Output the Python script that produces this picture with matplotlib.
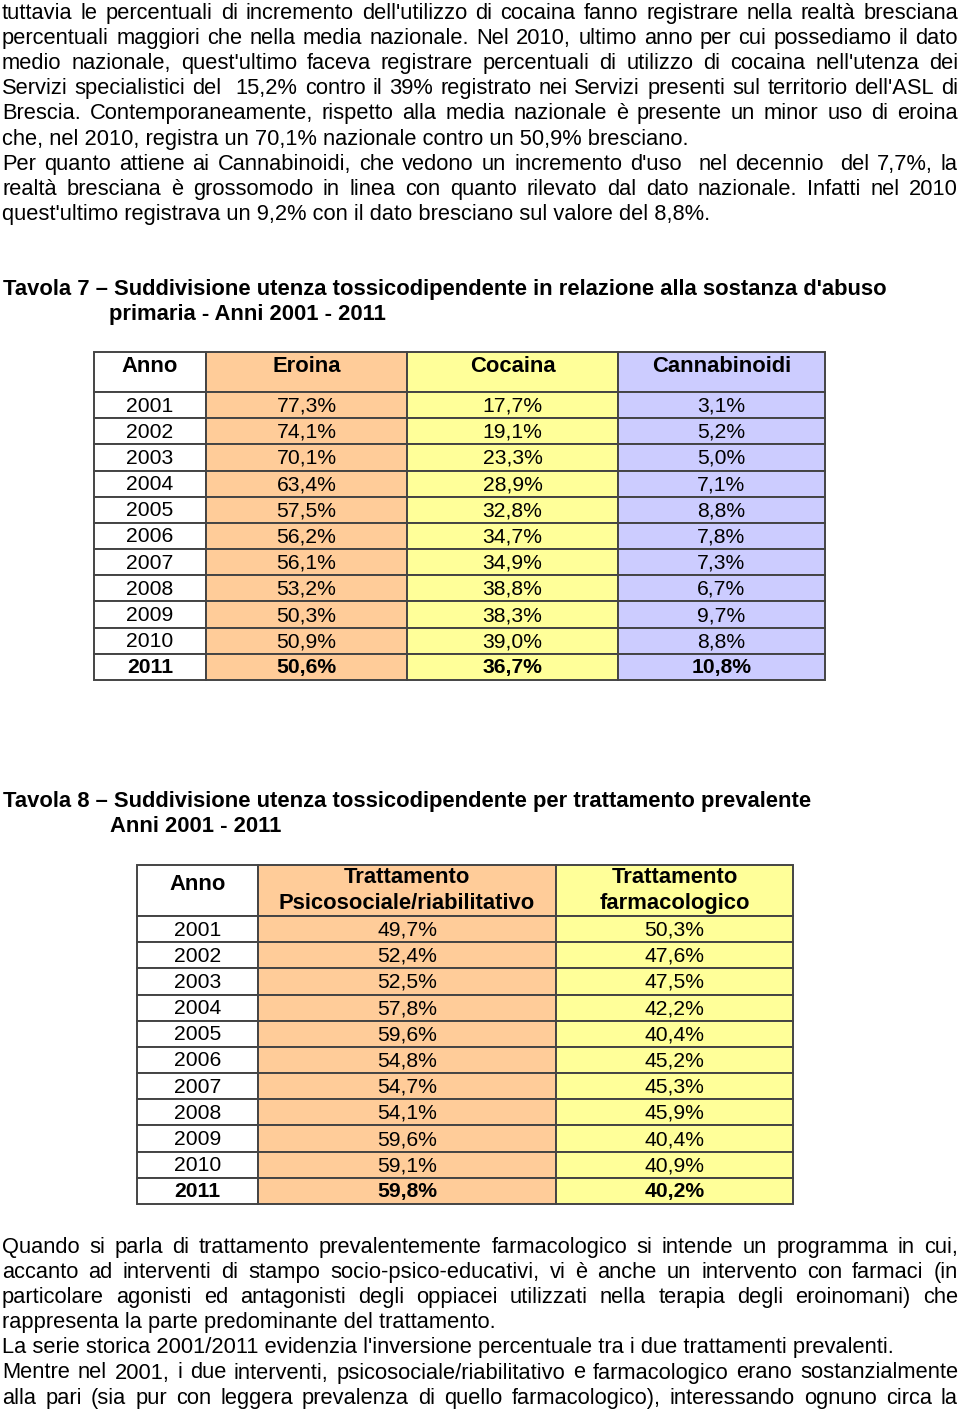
#!/usr/bin/env python3
"""Page with two tables (Tavola 7 / Tavola 8) and justified body text."""
import matplotlib
matplotlib.use("Agg")
import matplotlib.pyplot as plt
from matplotlib import font_manager
from matplotlib.patches import Rectangle

# ---- data ----
years = [2001, 2002, 2003, 2004, 2005, 2006, 2007, 2008, 2009, 2010, 2011]
eroina = [77.3, 74.1, 70.1, 63.4, 57.5, 56.2, 56.1, 53.2, 50.3, 50.9, 50.6]
cocaina = [17.7, 19.1, 23.3, 28.9, 32.8, 34.7, 34.9, 38.8, 38.3, 39.0, 36.7]
cannabinoidi = [3.1, 5.2, 5.0, 7.1, 8.8, 7.8, 7.3, 6.7, 9.7, 8.8, 10.8]
t7_headers = ["Anno", "Eroina", "Cocaina", "Cannabinoidi"]

psicosociale = [49.7, 52.4, 52.5, 57.8, 59.6, 54.8, 54.7, 54.1, 59.6, 59.1, 59.8]
farmacologico = [50.3, 47.6, 47.5, 42.2, 40.4, 45.2, 45.3, 45.9, 40.4, 40.9, 40.2]
t8_headers = ["Anno", "Trattamento\nPsicosociale/riabilitativo", "Trattamento\nfarmacologico"]

# (text, justified?)
para_top = [
    ("tuttavia le percentuali di incremento dell'utilizzo di cocaina fanno registrare nella realtà bresciana", True),
    ("percentuali maggiori che nella media nazionale. Nel 2010, ultimo anno per cui possediamo il dato", True),
    ("medio nazionale, quest'ultimo faceva registrare percentuali di utilizzo di cocaina nell'utenza dei", True),
    ("Servizi specialistici del  15,2% contro il 39% registrato nei Servizi presenti sul territorio dell'ASL di", True),
    ("Brescia. Contemporaneamente, rispetto alla media nazionale è presente un minor uso di eroina", True),
    ("che, nel 2010, registra un 70,1% nazionale contro un 50,9% bresciano.", False),
    ("Per quanto attiene ai Cannabinoidi, che vedono un incremento d'uso  nel decennio  del 7,7%, la", True),
    ("realtà bresciana è grossomodo in linea con quanto rilevato dal dato nazionale. Infatti nel 2010", True),
    ("quest'ultimo registrava un 9,2% con il dato bresciano sul valore del 8,8%.", False),
]
para_bottom = [
    ("Quando si parla di trattamento prevalentemente farmacologico si intende un programma in cui,", True),
    ("accanto ad interventi di stampo socio-psico-educativi, vi è anche un intervento con farmaci (in", True),
    ("particolare agonisti ed antagonisti degli oppiacei utilizzati nella terapia degli eroinomani) che", True),
    ("rappresenta la parte predominante del trattamento.", False),
    ("La serie storica 2001/2011 evidenzia l'inversione percentuale tra i due trattamenti prevalenti.", False),
    ("Mentre nel 2001, i due interventi, psicosociale/riabilitativo e farmacologico erano sostanzialmente", True),
    ("alla pari (sia pur con leggera prevalenza di quello farmacologico), interessando ognuno circa la", True),
]
title7 = ["Tavola 7 – Suddivisione utenza tossicodipendente in relazione alla sostanza d'abuso",
          "primaria - Anni 2001 - 2011"]
title8 = ["Tavola 8 – Suddivisione utenza tossicodipendente per trattamento prevalente",
          "Anni 2001 - 2011"]

PEACH = "#ffcc99"
YELLOW = "#ffff99"
LAVENDER = "#ccccff"
EDGE = "#444444"

names = {f.name for f in font_manager.fontManager.ttflist}
FONT = "Liberation Sans Narrow" if "Liberation Sans Narrow" in names else "Liberation Sans"

fig = plt.figure(figsize=(9.6, 14.11), dpi=100)
ax = fig.add_axes([0, 0, 1, 1])
ax.set_xlim(0, 960)
ax.set_ylim(1411, 0)
ax.axis("off")
renderer = fig.canvas.get_renderer()


def measure(s, size, weight="normal"):
    t = ax.text(0, 0, s, fontsize=size, family=FONT, weight=weight)
    w = t.get_window_extent(renderer).width
    t.remove()
    return w


def fit_size(s, width, weight="normal"):
    return 12 * width / measure(s, 12, weight)


def fmt(v):
    return f"{v:.1f}".replace(".", ",") + "%"


BODY = fit_size(para_bottom[4][0], 893)
TITLE = fit_size(title7[0], 879, "bold")
CELL = fit_size("2001", 47)
HEAD = fit_size("Cannabinoidi", 138, "bold")


def draw_par(lines, y0, step=25.1, x0=2, x1=958):
    for i, (line, just) in enumerate(lines):
        y = y0 + i * step
        if not just:
            ax.text(x0, y, line, fontsize=BODY, family=FONT, va="baseline", ha="left")
            continue
        words = line.split(" ")
        widths = [measure(w, BODY) if w else 0 for w in words]
        gap = (x1 - x0 - sum(widths)) / (len(words) - 1)
        x = x0
        for w, wd in zip(words, widths):
            if w:
                ax.text(x, y, w, fontsize=BODY, family=FONT, va="baseline", ha="left")
            x += wd + gap


def cell(x0, x1, y0, y1, color, text, weight="normal", size=None, dy=1):
    ax.add_patch(Rectangle((x0, y0), x1 - x0, y1 - y0, facecolor=color,
                           edgecolor=EDGE, linewidth=1.4))
    ax.text((x0 + x1) / 2, (y0 + y1) / 2 + dy, text, ha="center", va="center",
            fontsize=size or CELL, family=FONT, weight=weight, linespacing=1.3)


draw_par(para_top, 19)

# ---- Tavola 7 ----
ax.text(3, 295, title7[0], fontsize=TITLE, family=FONT, weight="bold", va="baseline")
ax.text(109, 320, title7[1], fontsize=TITLE, family=FONT, weight="bold", va="baseline")

cols7 = [94, 206, 407, 618, 825]
colors7 = ["white", PEACH, YELLOW, LAVENDER]
for j, h in enumerate(t7_headers):
    cell(cols7[j], cols7[j + 1], 352, 392, colors7[j], h, "bold", HEAD, dy=-5)
rh7 = (680 - 392) / len(years)
for i, yr in enumerate(years):
    y0 = 392 + i * rh7
    wt = "bold" if yr == years[-1] else "normal"
    vals = [str(yr), fmt(eroina[i]), fmt(cocaina[i]), fmt(cannabinoidi[i])]
    for j, v in enumerate(vals):
        cell(cols7[j], cols7[j + 1], y0, y0 + rh7, colors7[j], v, wt)

# ---- Tavola 8 ----
ax.text(3, 807, title8[0], fontsize=TITLE, family=FONT, weight="bold", va="baseline")
ax.text(110, 832, title8[1], fontsize=TITLE, family=FONT, weight="bold", va="baseline")

cols8 = [137, 258, 556, 793]
colors8 = ["white", PEACH, YELLOW]
for j, h in enumerate(t8_headers):
    cell(cols8[j], cols8[j + 1], 865, 916, colors8[j], h, "bold", HEAD,
         dy=-6 if j == 0 else 0)
rh8 = (1204 - 916) / len(years)
for i, yr in enumerate(years):
    y0 = 916 + i * rh8
    wt = "bold" if yr == years[-1] else "normal"
    vals = [str(yr), fmt(psicosociale[i]), fmt(farmacologico[i])]
    for j, v in enumerate(vals):
        cell(cols8[j], cols8[j + 1], y0, y0 + rh8, colors8[j], v, wt)

draw_par(para_bottom, 1253)

fig.savefig("out.png", dpi=100)
